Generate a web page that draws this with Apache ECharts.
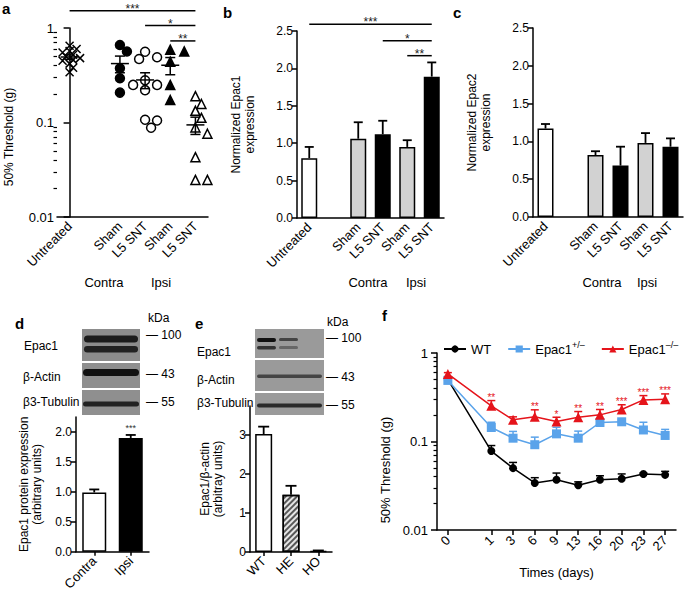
<!DOCTYPE html>
<html><head><meta charset="utf-8">
<script src="https://cdn.jsdelivr.net/npm/echarts@6/dist/echarts.min.js"></script>
<style>html,body{margin:0;padding:0;background:#fff}#c{width:685px;height:593px}</style>
</head><body><div id="c"></div>
<script>
// ================= DATA =================
const groupCats = ['Untreated', '', 'Sham', 'L5 SNT', 'Sham', 'L5 SNT'];
// panel a: 50% threshold (g), individual animals
const aUntreated = [0.65, 0.60, 0.57, 0.55, 0.52, 0.50, 0.48, 0.46, 0.45, 0.42, 0.38, 0.34];
const aShamContra = [0.66, 0.565, 0.375, 0.294, 0.207];
const aSntContra = [0.56, 0.49, 0.47, 0.28, 0.25, 0.25, 0.22, 0.107, 0.105, 0.088];
const aShamIpsi = [0.59, 0.565, 0.44, 0.25, 0.173];
const aSntIpsi = [0.19, 0.157, 0.133, 0.112, 0.0885, 0.076, 0.043, 0.0247, 0.0247];
const aSigFrom = [0, 3, 4];
const aSigTo = [5, 5, 5];
const aSigLevel = [1.52, 1.06, 0.73];
const aSigText = ['***', '*', '**'];
// panel b: normalized Epac1 expression
const bMean = [0.80, null, 1.06, 1.12, 0.95, 1.89];
const bErr = [0.95, null, 1.28, 1.30, 1.04, 2.08];
const bSigFrom = [0, 3, 4];
const bSigTo = [5, 5, 5];
const bSigLevel = [2.59, 2.37, 2.17];
const bSigText = ['***', '*', '**'];
// panel c: normalized Epac2 expression
const cMean = [1.17, null, 0.82, 0.68, 0.98, 0.93];
const cErr = [1.23, null, 0.87, 0.93, 1.11, 1.04];
const bcTicks = [0, 0.5, 1.0, 1.5, 2.0, 2.5];
// panel d
const dCats = ['Contra', 'Ipsi'];
const dMean = [0.99, 1.90];
const dErr = [1.04, 1.95];
const dStars = ['', '***'];
const dTicks = [0, 0.5, 1.0, 1.5, 2.0];
// panel e
const eCats = ['WT', 'HE', 'HO'];
const eMean = [3.03, 1.47, 0.02];
const eErr = [3.22, 1.70, 0.04];
const eTicks = [0, 1, 2, 3];
// panel f
const fDays = ['0', '', '1', '3', '6', '9', '13', '16', '20', '23', '27'];
const fWT = [0.50, null, 0.078, 0.050, 0.034, 0.037, 0.032, 0.037, 0.038, 0.043, 0.042];
const fWTErr = [0.52, null, 0.090, 0.058, 0.039, 0.044, 0.035, 0.041, 0.043, 0.044, 0.046];
const fHet = [0.49, null, 0.144, 0.109, 0.092, 0.122, 0.109, 0.164, 0.167, 0.135, 0.117];
const fHetErr = [0.50, null, 0.165, 0.130, 0.112, 0.145, 0.131, 0.175, 0.175, 0.165, 0.137];
const fKO = [0.58, null, 0.253, 0.176, 0.190, 0.168, 0.188, 0.200, 0.230, 0.295, 0.300];
const fKOErr = [0.60, null, 0.290, 0.190, 0.228, 0.188, 0.218, 0.230, 0.260, 0.330, 0.345];
const fStars = ['', '', '**', '', '**', '*', '**', '**', '***', '***', '***'];
const logTicks = [0.01, 0.1, 1];
const logMinor = [0.02, 0.03, 0.04, 0.05, 0.06, 0.07, 0.08, 0.09, 0.2, 0.3, 0.4, 0.5, 0.6, 0.7, 0.8, 0.9];

// ================= STYLE / HELPERS =================
const FONT = 'Liberation Sans';
const BLACK = '#000';
const BLUE = '#5aa3ea';
const RED = '#e5141b';
const aLine = { show: true, lineStyle: { color: BLACK, width: 1.5 } };
const tickStyle = { color: BLACK, width: 1.5 };
const lbl = { color: BLACK, fontFamily: FONT, fontSize: 12 };
const catLbl = { color: BLACK, fontFamily: FONT, fontSize: 13 };
const groupFill = ['#ffffff', null, '#d2d2d2', '#000000', '#d2d2d2', '#000000'];

function fmtNum(v) { return String(+(+v).toPrecision(3)); }

function swarm(vals, center, minDist, step) {
  const pxPerDecade = 94, pxPerSlot = 25.2, placed = [];
  return vals.map(v => {
    const y = Math.log10(v) * pxPerDecade;
    let off = 0;
    for (let k = 0; k < 40; k++) {
      const cand = (k === 0 ? 0 : (k % 2 ? 1 : -1) * Math.ceil(k / 2)) * step;
      if (placed.every(p => Math.hypot(p[0] - cand, p[1] - y) >= minDist)) { off = cand; break; }
    }
    placed.push([off, y]);
    return [center + off / pxPerSlot, v];
  });
}
function meanSem(vals, idx) {
  const n = vals.length, m = vals.reduce((s, v) => s + v, 0) / n;
  const sd = Math.sqrt(vals.reduce((s, v) => s + (v - m) * (v - m), 0) / (n - 1));
  const se = sd / Math.sqrt(n);
  return [idx, m, m - se, m + se];
}
function barData(means, fills) {
  return means.map((v, i) => v == null ? null : { value: v, itemStyle: { color: fills[i] } });
}
function errData(means, errs) {
  const out = [];
  means.forEach((m, i) => { if (m != null) out.push([i, m, errs[i]]); });
  return out;
}
function errSeries(xi, yi, data, color, cap, lw, labels, labelOpt) {
  return {
    type: 'custom', xAxisIndex: xi, yAxisIndex: yi, data: data, z: 3,
    encode: { x: 0, y: [1, 2] }, silent: true,
    renderItem: function (params, api) {
      const x = api.value(0), p0 = api.coord([x, api.value(1)]), p1 = api.coord([x, api.value(2)]);
      const ch = [
        { type: 'line', shape: { x1: p0[0], y1: p0[1], x2: p1[0], y2: p1[1] }, style: { stroke: color, lineWidth: lw } },
        { type: 'line', shape: { x1: p1[0] - cap, y1: p1[1], x2: p1[0] + cap, y2: p1[1] }, style: { stroke: color, lineWidth: lw } }
      ];
      if (labels && labels[x]) {
        ch.push({ type: 'text', x: p1[0], y: p1[1] - (labelOpt.gap || 0),
          style: { text: labels[x], fill: labelOpt.color, font: labelOpt.size + 'px ' + FONT,
            align: 'center', verticalAlign: 'bottom', textAlign: 'center', textVerticalAlign: 'bottom' } });
      }
      return { type: 'group', children: ch };
    }
  };
}
function sigSeries(xi, yi, from, to, level, texts) {
  return {
    type: 'custom', xAxisIndex: xi, yAxisIndex: yi, silent: true, z: 4,
    data: from.map((f, i) => [f, to[i], level[i]]), encode: { x: [0, 1], y: 2 },
    renderItem: function (params, api) {
      const p1 = api.coord([api.value(0), api.value(2)]), p2 = api.coord([api.value(1), api.value(2)]);
      return { type: 'group', children: [
        { type: 'line', shape: { x1: p1[0], y1: p1[1], x2: p2[0], y2: p2[1] }, style: { stroke: BLACK, lineWidth: 1.5 } },
        { type: 'text', x: (p1[0] + p2[0]) / 2, y: p1[1] + 4,
          style: { text: texts[params.dataIndex], fill: '#222', font: '12px ' + FONT,
            align: 'center', verticalAlign: 'bottom', textAlign: 'center', textVerticalAlign: 'bottom' } }
      ] };
    }
  };
}
function catAxis(gi, data, extra) {
  return Object.assign({ type: 'category', gridIndex: gi, data: data, axisLine: aLine,
    axisTick: { show: false }, axisLabel: Object.assign({}, catLbl, { rotate: 45, interval: 0, margin: 7 }),
    splitLine: { show: false } }, extra || {});
}
function valAxis(gi, min, max, ticks, fmt, extra) {
  return Object.assign({ type: 'value', gridIndex: gi, position: 'left', min: min, max: max, axisLine: aLine,
    axisTick: { show: true, length: 5, lineStyle: tickStyle, customValues: ticks },
    axisLabel: Object.assign({}, lbl, { margin: 4, customValues: ticks, formatter: fmt }),
    splitLine: { show: false } }, extra || {});
}
function logAxis(gi, margin, size) {
  return { type: 'log', logBase: 10, gridIndex: gi, position: 'left', min: 0.01, max: 1, axisLine: aLine,
    axisTick: { show: true, length: 6, lineStyle: tickStyle, customValues: logTicks },
    axisLabel: Object.assign({}, lbl, { fontSize: size, margin: margin, customValues: logTicks, formatter: fmtNum }),
    splitLine: { show: false } };
}
function logMinorAxis(gi) {
  return { type: 'log', logBase: 10, gridIndex: gi, position: 'left', offset: 0, min: 0.01, max: 1, axisLine: { show: false },
    axisTick: { show: true, length: 3.5, lineStyle: { color: BLACK, width: 1.2 }, customValues: logMinor },
    axisLabel: { show: false }, splitLine: { show: false } };
}
function t(text, x, y, o) {
  o = o || {};
  return { type: 'text', x: x, y: y, rotation: o.rot || 0, silent: true,
    style: { text: text, fill: o.color || BLACK, font: (o.bold ? 'bold ' : '') + (o.size || 12) + 'px ' + FONT,
      align: o.align || 'left', verticalAlign: 'middle', textAlign: o.align || 'left', textVerticalAlign: 'middle' } };
}
function rect(x, y, w, h, fill, r) {
  return { type: 'rect', silent: true, shape: { x: x, y: y, width: w, height: h, r: r || 0 }, style: { fill: fill } };
}

// ================= SCATTER (panel a) =================
const crossSym = 'path://M0,0L10,10M10,0L0,10';
const aGroups = [
  { vals: aUntreated, idx: 0, symbol: crossSym, size: 8, fill: 'rgba(0,0,0,0)', md: 5, st: 3.5 },
  { vals: aShamContra, idx: 2, symbol: 'circle', size: 9, fill: BLACK, md: 9, st: 7 },
  { vals: aSntContra, idx: 3, symbol: 'circle', size: 9, fill: '#fff', md: 9, st: 6 },
  { vals: aShamIpsi, idx: 4, symbol: 'triangle', size: 9, fill: BLACK, md: 9, st: 7 },
  { vals: aSntIpsi, idx: 5, symbol: 'triangle', size: 9, fill: '#fff', md: 9, st: 6 }
];
const series = [];
aGroups.forEach(g => {
  series.push({ type: 'scatter', xAxisIndex: 1, yAxisIndex: 0, symbol: g.symbol, symbolSize: g.size,
    data: swarm(g.vals, g.idx, g.md, g.st), silent: true, z: 2,
    itemStyle: { color: g.fill, borderColor: BLACK, borderWidth: 1.5, opacity: 1 } });
});
series.push({
  type: 'custom', xAxisIndex: 1, yAxisIndex: 0, silent: true, z: 5,
  data: aGroups.map(g => meanSem(g.vals, g.idx)), encode: { x: 0, y: [1, 2, 3] },
  renderItem: function (params, api) {
    const x = api.value(0), pm = api.coord([x, api.value(1)]), pl = api.coord([x, api.value(2)]), ph = api.coord([x, api.value(3)]);
    const s = { stroke: BLACK, lineWidth: 1.5 };
    return { type: 'group', children: [
      { type: 'line', shape: { x1: pm[0] - 9, y1: pm[1], x2: pm[0] + 9, y2: pm[1] }, style: s },
      { type: 'line', shape: { x1: pl[0], y1: pl[1], x2: ph[0], y2: ph[1] }, style: s },
      { type: 'line', shape: { x1: pl[0] - 5, y1: pl[1], x2: pl[0] + 5, y2: pl[1] }, style: s },
      { type: 'line', shape: { x1: ph[0] - 5, y1: ph[1], x2: ph[0] + 5, y2: ph[1] }, style: s }
    ] };
  }
});
series.push(sigSeries(0, 0, aSigFrom, aSigTo, aSigLevel, aSigText));

// ================= BARS b, c, d, e =================
const barBase = { type: 'bar', barWidth: 16, silent: true, z: 2,
  itemStyle: { borderColor: BLACK, borderWidth: 1.5 } };
series.push(Object.assign({}, barBase, { xAxisIndex: 2, yAxisIndex: 2, data: barData(bMean, groupFill) }));
series.push(errSeries(2, 2, errData(bMean, bErr), BLACK, 4.5, 1.8));
series.push(sigSeries(2, 2, bSigFrom, bSigTo, bSigLevel, bSigText));
series.push(Object.assign({}, barBase, { xAxisIndex: 3, yAxisIndex: 3, data: barData(cMean, groupFill) }));
series.push(errSeries(3, 3, errData(cMean, cErr), BLACK, 4.5, 1.8));
series.push(Object.assign({}, barBase, { xAxisIndex: 4, yAxisIndex: 4, barWidth: 24,
  data: barData(dMean, ['#ffffff', '#000000']) }));
series.push(errSeries(4, 4, errData(dMean, dErr), BLACK, 5, 1.8, dStars, { color: '#333', size: 9, gap: 2 }));
series.push(Object.assign({}, barBase, { xAxisIndex: 5, yAxisIndex: 5, barWidth: 17,
  data: eMean.map((v, i) => ({ value: v, itemStyle: i === 1 ? {
    color: '#e6e6e6', decal: { symbol: 'rect', symbolSize: 1, color: 'rgba(40,40,40,0.75)',
      dashArrayX: [1, 0], dashArrayY: [1.2, 1.6], rotation: -Math.PI / 4 } } : { color: '#ffffff' } })) }));
series.push(errSeries(5, 5, errData(eMean, eErr), BLACK, 5.5, 1.8));

// ================= LINES f =================
const fSeries = [
  { name: 'WT', data: fWT, err: fWTErr, color: BLACK, symbol: 'circle', size: 8 },
  { name: 'Epac1+/–', data: fHet, err: fHetErr, color: BLUE, symbol: 'rect', size: 9 },
  { name: 'Epac1–/–', data: fKO, err: fKOErr, color: RED, symbol: 'triangle', size: 10 }
];
fSeries.forEach((s, k) => {
  series.push(errSeries(6, 6, errData(s.data, s.err), s.color, 4, 1.5,
    k === 2 ? fStars : null, { color: RED, size: 10, gap: -2 }));
  series.push({ type: 'line', name: s.name, xAxisIndex: 6, yAxisIndex: 6, data: s.data, connectNulls: true,
    symbol: s.symbol, symbolSize: s.size, showSymbol: true, silent: true, z: 4 + k,
    itemStyle: { color: s.color }, lineStyle: { color: s.color, width: 1.5 } });
});

// ================= GRAPHIC (labels, blots) =================
const graphic = [
  t('a', 2, 8, { bold: true, size: 15 }), t('b', 223, 12, { bold: true, size: 15 }), t('c', 453, 12, { bold: true, size: 15 }),
  t('d', 15, 323, { bold: true, size: 15 }), t('e', 195, 323, { bold: true, size: 15 }), t('f', 382, 315, { bold: true, size: 15 }),
  t('50% Threshold (g)', 9, 137, { rot: Math.PI / 2, align: 'center' }),
  t('Contra', 104, 282, { align: 'center', size: 13 }), t('Ipsi', 161, 282, { align: 'center', size: 13 }),
  t('Contra', 368, 282, { align: 'center', size: 13 }), t('Ipsi', 416, 282, { align: 'center', size: 13 }),
  t('Contra', 602, 282, { align: 'center', size: 13 }), t('Ipsi', 647, 282, { align: 'center', size: 13 }),
  t('50% Threshold (g)', 385, 470, { rot: Math.PI / 2, align: 'center', size: 13 }),
  // blot d
  rect(82, 329, 58, 32, '#8c8c8c'), rect(82, 363, 58, 25, '#8f8f8f'), rect(82, 390, 58, 25, '#8f8f8f'),
  rect(84, 335.5, 54, 7, '#1c1c1c', 3.5), rect(84, 346, 54, 6.5, '#222', 3.2),
  rect(83, 369, 56, 7, '#111', 3.5), rect(83, 401.5, 56, 5, '#222', 2.5),
  t('Epac1', 24, 346), t('β-Actin', 23, 377), t('β3-Tubulin', 23, 402),
  t('kDa', 148, 318), t('— 100', 146, 335), t('— 43', 146, 374), t('— 55', 146, 402),
  // blot e
  rect(255, 329, 69, 29, '#9a9a9a'), rect(255, 360, 69, 31, '#9a9a9a'), rect(255, 393, 69, 22, '#9a9a9a'),
  rect(257, 338, 19, 4, '#111', 2), rect(257, 346, 19, 3.5, '#333', 1.7),
  rect(279, 338, 19, 3, '#444', 1.5), rect(279, 346, 19, 3, '#666', 1.5),
  rect(257, 374.5, 65, 3.5, '#444', 1.7), rect(257, 403.5, 65, 4, '#2a2a2a', 2),
  t('Epac1', 197, 352), t('β-Actin', 197, 380), t('β3-Tubulin', 197, 403),
  t('kDa', 327, 322), t('— 100', 326, 338), t('— 43', 326, 377), t('— 55', 326, 405)
];

// ================= OPTION =================
const option = {
  animation: false,
  backgroundColor: '#fff',
  textStyle: { fontFamily: FONT },
  grid: [
    { left: 57, top: 28, width: 151, height: 189 },
    { left: 297, top: 31, width: 147, height: 187 },
    { left: 533, top: 28, width: 150, height: 189 },
    { left: 76, top: 417, width: 73, height: 135 },
    { left: 250, top: 406, width: 82, height: 146 },
    { left: 437, top: 353, width: 239, height: 177 }
  ],
  legend: {
    data: fSeries.map(s => s.name), left: 443, top: 340, width: 250, padding: 0, orient: 'horizontal',
    itemWidth: 22, itemHeight: 9, itemGap: 16,
    textStyle: { fontFamily: FONT, fontSize: 13, color: BLACK,
      rich: { n: { fontSize: 13, fontFamily: FONT, color: BLACK }, sup: { fontSize: 9, fontFamily: FONT, color: BLACK, padding: [0, 0, 9, 0] } } },
    formatter: function (name) { return name === 'WT' ? 'WT' : '{n|Epac1}{sup|' + name.slice(5) + '}'; }
  },
  xAxis: [
    catAxis(0, groupCats),
    { type: 'value', gridIndex: 0, min: -0.5, max: groupCats.length - 0.5, show: false },
    catAxis(1, groupCats),
    catAxis(2, groupCats),
    catAxis(3, dCats, { axisTick: { show: true, alignWithLabel: true, length: 4, lineStyle: tickStyle } }),
    catAxis(4, eCats, { axisTick: { show: true, alignWithLabel: true, length: 4, lineStyle: tickStyle } }),
    catAxis(5, fDays, {
      axisTick: { show: true, alignWithLabel: true, length: 5, lineStyle: tickStyle, interval: function (i, v) { return v !== ''; } },
      axisLabel: Object.assign({}, lbl, { fontSize: 13, rotate: 45, interval: 0, margin: 8 }),
      name: 'Times (days)', nameLocation: 'middle', nameGap: 36, nameTextStyle: Object.assign({}, lbl, { fontSize: 13 })
    })
  ],
  yAxis: [
    logAxis(0, 3, 13),
    logMinorAxis(0),
    valAxis(1, 0, 2.5, bcTicks, v => (+v).toFixed(1), { name: 'Normalized Epac1\nexpression', nameLocation: 'middle', nameGap: 40, nameRotate: 90,
      nameTextStyle: Object.assign({}, lbl, { lineHeight: 14 }) }),
    valAxis(2, 0, 2.5, bcTicks, v => (+v).toFixed(1), { name: 'Normalized Epac2\nexpression', nameLocation: 'middle', nameGap: 40, nameRotate: 90,
      nameTextStyle: Object.assign({}, lbl, { lineHeight: 14 }) }),
    valAxis(3, 0, 2.25, dTicks, v => (+v).toFixed(1), { name: 'Epac1 protein expression\n(arbitrary units)', nameLocation: 'middle', nameGap: 33, nameRotate: 90,
      nameTextStyle: Object.assign({}, lbl, { lineHeight: 13 }) }),
    valAxis(4, 0, 3.75, eTicks, v => String(v), { name: 'Epac1/β-actin\n(arbitray units)', nameLocation: 'middle', nameGap: 26, nameRotate: 90,
      nameTextStyle: Object.assign({}, lbl, { lineHeight: 13 }) }),
    logAxis(5, 9, 13),
    logMinorAxis(5)
  ],
  graphic: graphic,
  series: series
};
const chart = echarts.init(document.getElementById('c'), null, { renderer: 'svg', width: 685, height: 593 });
chart.setOption(option);
</script></body></html>
